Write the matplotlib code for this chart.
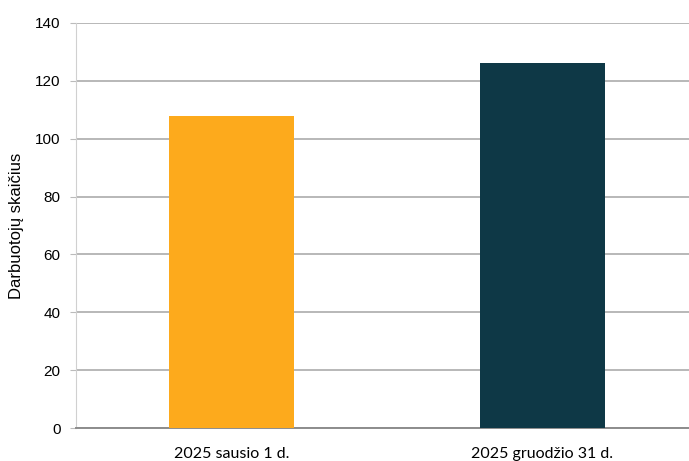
import matplotlib

matplotlib.use("Agg")
import matplotlib.pyplot as plt

# Duomenys
categories = ["2025 sausio 1 d.", "2025 gruodžio 31 d."]
employees = [108, 126]
bar_colors = ["#FDAA1C", "#0E3846"]
y_ticks = [0, 20, 40, 60, 80, 100, 120, 140]

fig = plt.figure(figsize=(6.89, 4.61), dpi=100)
ax = fig.add_axes([76 / 689, 33 / 461, 622 / 689, 405 / 461])

ax.bar(range(len(categories)), employees, width=0.4, color=bar_colors, zorder=3)

ax.set_xlim(-0.5, 1.5)
ax.set_ylim(0, 140)
ax.set_yticks(y_ticks)
ax.set_yticklabels([str(v) for v in y_ticks], fontsize=11, family="Liberation Sans")
ax.set_xticks(range(len(categories)))
ax.set_xticklabels(categories, fontsize=11.5, family="Lato")

ax.yaxis.grid(True, color="#ABABAB", linewidth=1.2, zorder=0)
ax.tick_params(axis="x", length=0, pad=14)
ax.tick_params(axis="y", length=4, color="#BBBBBB", pad=7)

for side in ("top", "right"):
    ax.spines[side].set_visible(False)
ax.spines["left"].set_color("#D0D0D0")
ax.spines["bottom"].set_color("#8C8C8C")
ax.spines["bottom"].set_linewidth(1.4)

ax.set_ylabel("Darbuotojų skaičius", fontsize=12, family="Liberation Sans", labelpad=8)

fig.savefig("out.png", dpi=100)
